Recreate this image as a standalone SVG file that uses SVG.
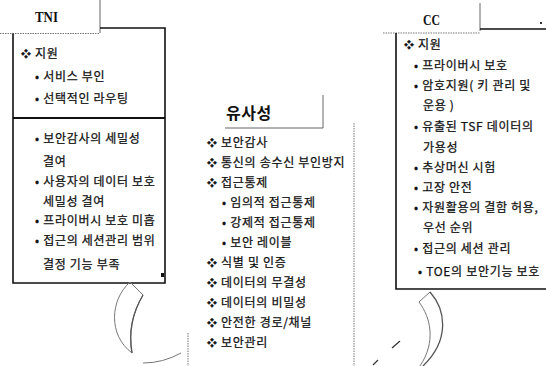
<svg xmlns="http://www.w3.org/2000/svg" width="546" height="366" viewBox="0 0 546 366">
<style>
.t{font-family:"Noto Sans CJK KR","DejaVu Sans",sans-serif;font-size:12px;letter-spacing:0.7px;fill:#111;stroke:#111;stroke-width:0.25;}
.d{font-size:10px;}
.tab{font-family:"Liberation Serif",serif;font-weight:bold;font-size:15px;fill:#111;}
.h{font-family:"Noto Sans CJK KR",sans-serif;font-weight:bold;font-size:16px;letter-spacing:0.5px;fill:#111;}
.thin{stroke:#666;stroke-width:1;fill:none;}
.dot{stroke:#777;stroke-width:1;stroke-dasharray:1.5 1;fill:none;}
.box{stroke:#111;stroke-width:1.6;fill:none;}
.cv{stroke:#777;stroke-width:1;fill:none;}
</style>
<rect width="546" height="366" fill="#fff"/>
<g id="tni">
<line class="thin" x1="100" y1="0" x2="100" y2="33"/>
<line class="dot" x1="0" y1="33.5" x2="100" y2="33.5"/>
<path class="box" d="M100,28 H165 V283 H13 V33.5"/>
<line stroke="#111" stroke-width="2.2" x1="13" y1="118" x2="165" y2="118"/>
<rect x="161" y="273" width="3" height="4" fill="#111"/>
<text class="tab" x="35" y="22" textLength="23" lengthAdjust="spacingAndGlyphs">TNI</text>
<text class="t" x="21" y="58"><tspan class="d">❖</tspan> 지원</text>
<text class="t" x="35" y="81">• 서비스 부인</text>
<text class="t" x="35" y="103">• 선택적인 라우팅</text>
<text class="t" x="35" y="143">• 보안감사의 세밀성</text>
<text class="t" x="43" y="166">결여</text>
<text class="t" x="35" y="186">• 사용자의 데이터 보호</text>
<text class="t" x="43" y="206">세밀성 결여</text>
<text class="t" x="35" y="225">• 프라이버시 보호 미흡</text>
<text class="t" x="35" y="245">• 접근의 세션관리 범위</text>
<text class="t" x="43" y="269">결정 기능 부족</text>
</g>
<g id="similarity">
<line class="thin" x1="323" y1="95" x2="323" y2="128"/>
<line class="thin" x1="225" y1="128" x2="323" y2="128"/>
<line class="dot" x1="354" y1="123" x2="354" y2="366"/>
<text class="h" x="226" y="119">유사성</text>
<text class="t" x="207" y="147"><tspan class="d">❖</tspan> 보안감사</text>
<text class="t" x="207" y="167"><tspan class="d">❖</tspan> 통신의 송수신 부인방지</text>
<text class="t" x="207" y="187"><tspan class="d">❖</tspan> 접근통제</text>
<text class="t" x="222" y="207">• 임의적 접근통제</text>
<text class="t" x="222" y="227">• 강제적 접근통제</text>
<text class="t" x="222" y="247">• 보안 레이블</text>
<text class="t" x="207" y="267"><tspan class="d">❖</tspan> 식별 및 인증</text>
<text class="t" x="207" y="287"><tspan class="d">❖</tspan> 데이터의 무결성</text>
<text class="t" x="207" y="307"><tspan class="d">❖</tspan> 데이터의 비밀성</text>
<text class="t" x="207" y="327"><tspan class="d">❖</tspan> 안전한 경로/채널</text>
<text class="t" x="207" y="347"><tspan class="d">❖</tspan> 보안관리</text>
</g>
<g id="cc">
<line class="thin" x1="480" y1="3" x2="480" y2="31"/>
<line class="dot" x1="383" y1="33" x2="480" y2="33"/>
<path class="box" d="M480,29 H546 M396,33 V289 H546"/>
<rect x="540" y="22" width="2" height="2" fill="#333"/>
<text class="tab" x="423" y="25" textLength="17" lengthAdjust="spacingAndGlyphs">CC</text>
<text class="t" x="404" y="49"><tspan class="d">❖</tspan> 지원</text>
<text class="t" x="414" y="70">• 프라이버시 보호</text>
<text class="t" x="414" y="90">• 암호지원( 키 관리 및</text>
<text class="t" x="423" y="110">운용 )</text>
<text class="t" x="414" y="131">• 유출된 TSF 데이터의</text>
<text class="t" x="423" y="152">가용성</text>
<text class="t" x="414" y="172">• 추상머신 시험</text>
<text class="t" x="414" y="192">• 고장 안전</text>
<text class="t" x="414" y="212">• 자원활용의 결함 허용,</text>
<text class="t" x="423" y="232">우선 순위</text>
<text class="t" x="414" y="253">• 접근의 세션 관리</text>
<text class="t" x="418" y="276">• TOE의 보안기능 보호</text>
</g>
<g id="connectors">
<path class="cv" d="M130,282 C110,300 108,335 132,353 C128,330 133,312 143,295 Z"/>
<path stroke="#555" stroke-width="1.3" fill="none" d="M143,295 C133,312 128,330 132,353"/>
<path class="cv" d="M143,363 Q163,363 181,353"/>
<line class="dot" x1="188" y1="333" x2="188" y2="366"/>
<path class="cv" d="M430,292 L419,302 C431,318 436,342 420,366"/>
<path stroke="#555" stroke-width="1.3" fill="none" d="M430,292 C446,310 450,340 423,366"/>
<path stroke="#333" stroke-width="1.2" d="M392,348 L400,341 M373,365 L378,360"/>
</g>
</svg>
